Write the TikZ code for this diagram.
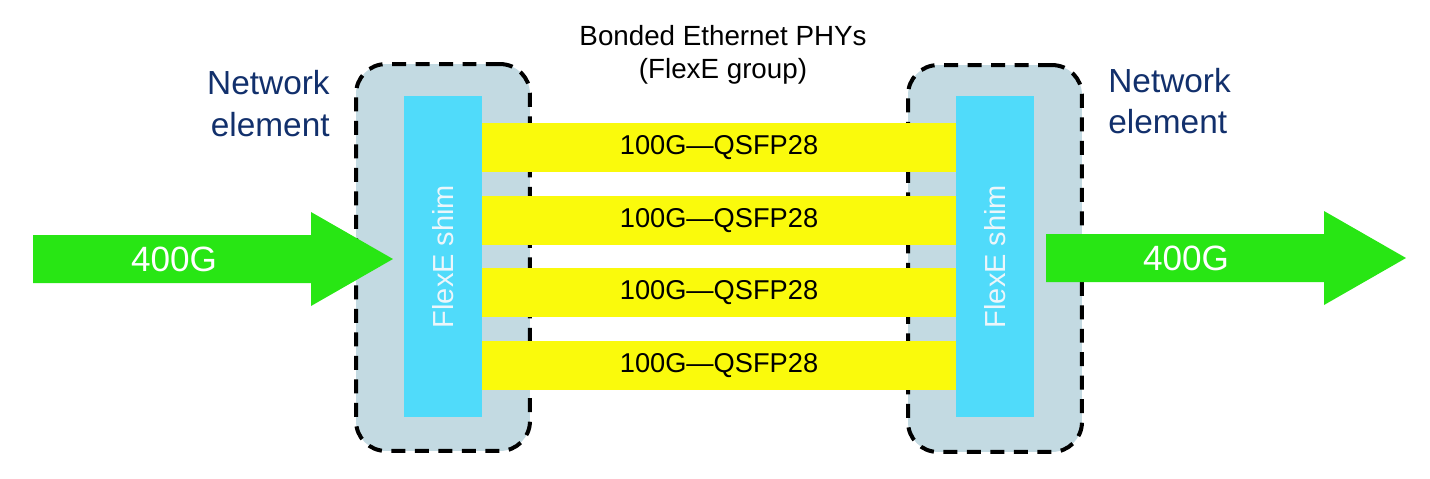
\documentclass[tikz,border=0pt]{standalone}
\usepackage{fontspec}
\setmainfont{Liberation Sans}
\usetikzlibrary{positioning}
\definecolor{navytext}{RGB}{18, 48, 108}
\definecolor{boxgray}{RGB}{195, 218, 226}
\definecolor{shimblue}{RGB}{80, 219, 250}
\definecolor{phyyellow}{RGB}{250, 250, 12}
\definecolor{flowgreen}{RGB}{40, 230, 20}
\definecolor{shimtext}{RGB}{236, 246, 250}

\begin{document}
\begin{tikzpicture}[
        x=0.02cm, y=-0.02cm,
        element/.style={
            rectangle, rounded corners=0.6cm, fill=boxgray, draw=black,
            line width=0.08cm, dash pattern=on 0.28cm off 0.19cm,
            minimum width=3.48cm, minimum height=7.74cm, inner sep=0pt
        },
        shim/.style={
            fill=shimblue, minimum width=1.56cm, minimum height=6.42cm,
            inner sep=0pt
        },
        shimlabel/.style={
            rotate=90, text=shimtext, inner sep=0pt,
            font=\fontsize{16.5}{19}\selectfont
        },
        phy/.style={
            fill=phyyellow, minimum width=9.48cm, minimum height=0.98cm,
            inner sep=0pt, font=\fontsize{15.5}{18}\selectfont
        },
        flow/.style={fill=flowgreen},
        flowlabel/.style={text=white, inner sep=0pt, font=\fontsize{20}{22}\selectfont},
        netlabel/.style={text=navytext, inner sep=0pt, font=\fontsize{19}{23.5}\selectfont},
        title/.style={align=center, inner sep=0pt, font=\fontsize{15.8}{18.8}\selectfont}
    ]
    \useasboundingbox (0,0) rectangle (1430,478);

    % network elements
    \node[element] (neL) at (443,257.5) {};
    \node[element] (neR) at (995,258.5) {};

    % bonded PHYs
    \foreach \i in {1,...,4}
        \node[phy] (phy\i) at (719,74.8+72.7*\i) {\raisebox{-1.5pt}{100G—QSFP28}};

    % shims
    \node[shim] (shimL) at (443,256.5) {};
    \node[shim] (shimR) at (995,256.5) {};
    \node[shimlabel] (shimtxtL) at (shimL) {FlexE shim};
    \node[shimlabel] (shimtxtR) at (shimR) {FlexE shim};

    % client flows
    \coordinate (inTip) at (393,259);
    \coordinate (outTip) at (1406,258);
    \fill[flow] (inTip) -- ++(-82,-47) -- ++(0,23) -- ++(-278,0) -- ++(0,48)
        -- ++(278,0) -- ++(0,23) -- cycle;
    \fill[flow] (outTip) -- ++(-82,-47) -- ++(0,23) -- ++(-278,0) -- ++(0,48)
        -- ++(278,0) -- ++(0,23) -- cycle;
    \node[flowlabel] (inRate) at (174,259) {400G};
    \node[flowlabel] (outRate) at (1186,258) {400G};

    % labels
    \node[title] (bond) at (723,55) {Bonded Ethernet PHYs\\(FlexE group)};
    \node[netlabel, anchor=east, align=right] (neTxtL) at (330,103.5) {Network\\element};
    \node[netlabel, anchor=west, align=left] (neTxtR) at (1108,101) {Network\\element};
\end{tikzpicture}
\end{document}
